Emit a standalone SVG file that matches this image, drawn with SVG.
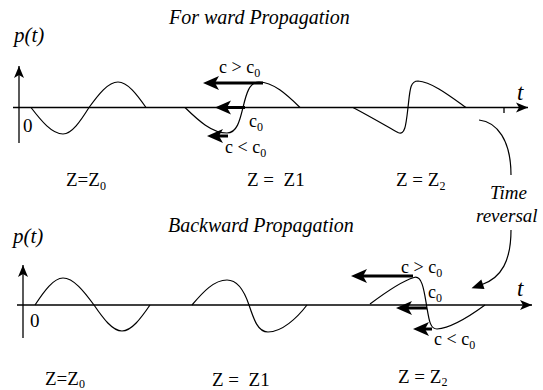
<svg xmlns="http://www.w3.org/2000/svg" width="543" height="390" viewBox="0 0 543 390" font-family="'Liberation Serif', 'Times New Roman', serif">
<style>
.ax{stroke:#000;stroke-width:1.3;fill:none}
.wv{stroke:#000;stroke-width:1.2;fill:none}
.th{stroke:#000;stroke-width:3;fill:none}
.cv{stroke:#000;stroke-width:1.2;fill:none}
text{fill:#000}
.ttl{font-size:20px;font-style:italic}
.pt{font-size:21px;font-style:italic}
.tt{font-size:23px;font-style:italic}
.lb{font-size:19px}
.cl{font-size:18px}
.sb{font-size:12px}
.tr{font-size:19px;font-style:italic}
</style>
<defs>
<marker id="axh" markerUnits="userSpaceOnUse" markerWidth="14" markerHeight="12" refX="12" refY="5" orient="auto" overflow="visible">
<path d="M0,0 L12,5 L0,10 L3,5 z" fill="#000"/>
</marker>
<marker id="thh" markerUnits="userSpaceOnUse" markerWidth="18" markerHeight="16" refX="4" refY="7" orient="auto" overflow="visible">
<path d="M0,0 L16,7 L0,14 L4,7 z" fill="#000"/>
</marker>
<marker id="trh" markerUnits="userSpaceOnUse" markerWidth="14" markerHeight="12" refX="2" refY="5" orient="auto" overflow="visible">
<path d="M0,0 L12,5 L0,10 z" fill="#000"/>
</marker>
</defs>

<g id="forward-title"><text class="ttl" x="169" y="24">For ward Propagation</text></g>

<g id="top-axes">
<line class="ax" x1="19" y1="143" x2="19" y2="66" marker-end="url(#axh)"/>
<line class="ax" x1="13" y1="107.5" x2="528" y2="107.5" marker-end="url(#axh)"/>
<line class="ax" x1="504" y1="107.5" x2="504" y2="113"/>
<text class="pt" x="14" y="42">p(t)</text>
<text class="tt" x="517" y="100">t</text>
<text class="lb" x="23" y="132">0</text>
</g>

<g id="top-wave-z0">
<path class="wv" d="M31,107.5 C41.4,121.1 52.1,134 63,134 C71.8,134 80.5,121.1 89,107.5 C98.5,94.4 108.1,82 118,82 C127.5,82 136.9,94.4 146,107.5"/>
<text class="lb" x="66" y="186">Z=Z<tspan class="sb" dy="4">0</tspan></text>
</g>

<g id="top-wave-z1">
<path class="wv" d="M185,107.5 C198.4,120.6 212,133 227,133 C237,133 240,120 243,107.5 C246,95 249,82 259,82 C273,82 286.6,94.4 300,107.5"/>
<text class="lb" x="247" y="186" style="white-space:pre">Z =  Z1</text>
<text class="cl" x="219" y="73">c &gt; c<tspan class="sb" dy="4">0</tspan></text>
<text class="cl" x="249" y="127">c<tspan class="sb" dy="4">0</tspan></text>
<text class="cl" x="225" y="153">c &lt; c<tspan class="sb" dy="4">0</tspan></text>
</g>

<g id="top-wave-z2">
<path class="wv" d="M353,107.5 C371,117 388,127 398,132.5 C405,136 406,125 408,107.5 C410,90 410,81 418,81 C432,82 450,96 466,107.5"/>
<text class="lb" x="396" y="186">Z = Z<tspan class="sb" dy="4">2</tspan></text>
</g>

<g id="time-reversal">
<text class="tr" x="490" y="199">Time</text>
<text class="tr" x="476" y="222">reversal</text>
</g>

<g id="backward-title"><text class="ttl" x="168" y="232">Backward Propagation</text></g>

<g id="bottom-axes">
<line class="ax" x1="23" y1="338" x2="23" y2="265" marker-end="url(#axh)"/>
<line class="ax" x1="17" y1="305" x2="532" y2="305" marker-end="url(#axh)"/>
<text class="pt" x="13" y="243">p(t)</text>
<text class="tt" x="517" y="296">t</text>
<text class="lb" x="30" y="327">0</text>
</g>

<g id="bottom-wave-z0">
<path class="wv" d="M35,305 C44.1,291.2 53.5,278 63,278 C73.5,278 83.9,291.2 94,305 C103.1,318.3 112.5,331 122,331 C131.5,331 140.9,318.3 150,305"/>
<text class="lb" x="45" y="385">Z=Z<tspan class="sb" dy="3">0</tspan></text>
</g>

<g id="bottom-wave-z1">
<path class="wv" d="M192,305 C203,292 214,280 227,280 C237,280 244,290 249,305 C254,320 258,332 268,332 C282,332 297,318 307,305"/>
<text class="lb" x="212" y="386" style="white-space:pre">Z =  Z1</text>
</g>

<g id="bottom-wave-z2">
<path class="wv" d="M370,304 C386,292 402,281 414,277.5 C422,275 424,290 426.5,305 C429,320 430,329 437,329 C452,328 470,316 485,305"/>
<text class="lb" x="398" y="383">Z = Z<tspan class="sb" dy="3">2</tspan></text>
<text class="cl" x="401" y="273">c &gt; c<tspan class="sb" dy="4">0</tspan></text>
<text class="cl" x="428" y="298">c<tspan class="sb" dy="4">0</tspan></text>
<text class="cl" x="434" y="345">c &lt; c<tspan class="sb" dy="4">0</tspan></text>
</g>

<g id="connectors">
<line class="th" x1="263" y1="83" x2="215" y2="83" marker-end="url(#thh)"/>
<line class="th" x1="245" y1="107.5" x2="227" y2="107.5" marker-end="url(#thh)"/>
<line class="th" x1="228" y1="136" x2="219" y2="136" marker-end="url(#thh)"/>
<line class="th" x1="413" y1="276" x2="363" y2="276" marker-end="url(#thh)"/>
<line class="th" x1="427" y1="308" x2="408" y2="308" marker-end="url(#thh)"/>
<line class="th" x1="432" y1="329" x2="425" y2="329" marker-end="url(#thh)"/>
<path class="cv" d="M479,120 C497,122 511,140 511,175"/>
<path class="cv" d="M511,230 C511,260 502,278 481,285" marker-end="url(#trh)"/>
</g>
</svg>
